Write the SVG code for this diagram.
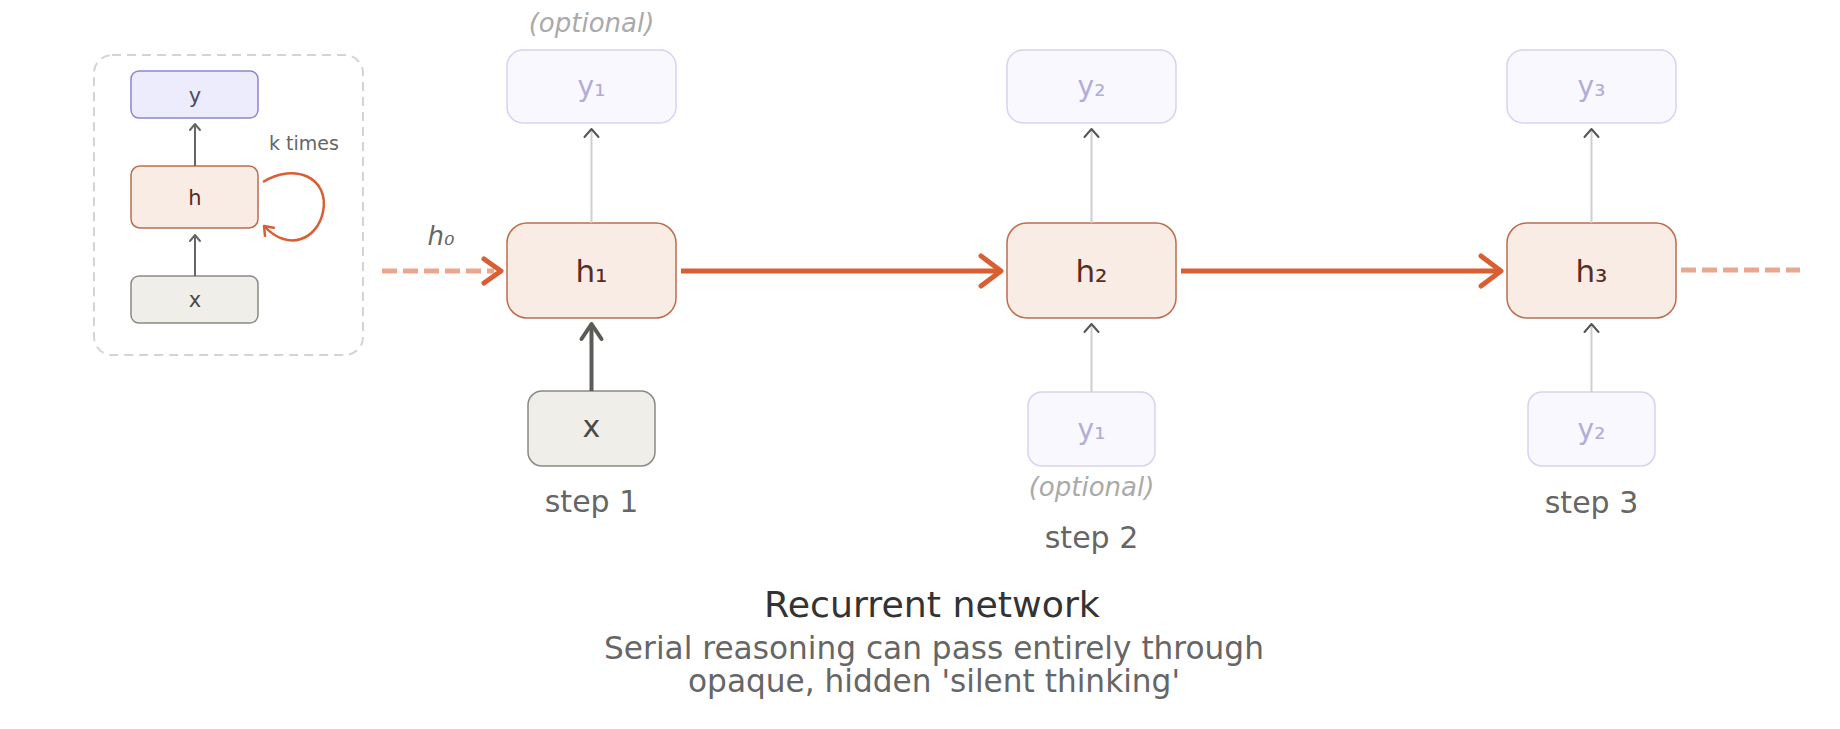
<svg xmlns="http://www.w3.org/2000/svg" width="1840" height="729" viewBox="0 0 1840 729">
  <style>
    text { font-family: "DejaVu Sans", "Liberation Sans", sans-serif; text-anchor: middle; }
    .hbox { fill: #f9ece5; stroke: #bb6d4c; stroke-width: 1.5; }
    .ybox { fill: #f9f8fe; stroke: #d6d2f2; stroke-width: 1.5; }
    .xbox { fill: #f0eee8; stroke: #8a8985; stroke-width: 1.5; }
    .ysmall { fill: #ececfc; stroke: #8c84d2; stroke-width: 1.5; }
    .hlab { font-size: 31px; fill: #5a2d1e; }
    .ylab { font-size: 28px; fill: #b2acd9; }
    .xlab { font-size: 30px; fill: #4a4a48; }
    .slab { font-size: 21px; }
    .step { font-size: 30px; fill: #666; }
    .opt { font-size: 26px; fill: #aaa; font-style: italic; }
    .main { stroke: #d95f33; stroke-width: 5; fill: none; }
    .dash { stroke: #eba78d; stroke-width: 5; stroke-dasharray: 15 6; fill: none; }
    .faint { stroke: #cfcfcf; stroke-width: 2; fill: none; }
    .small { stroke: #666; stroke-width: 2; fill: none; }
  </style>
  <defs>
    <marker id="arrBig" markerUnits="userSpaceOnUse" markerWidth="40" markerHeight="40" viewBox="-30 -20 40 40" refX="0" refY="0" orient="auto">
      <path d="M-20,-15 L0,0 L-20,15" fill="none" stroke="#d95f33" stroke-width="5" stroke-linecap="round" stroke-linejoin="round"/>
    </marker>
    <marker id="arrMid" markerUnits="userSpaceOnUse" markerWidth="40" markerHeight="40" viewBox="-30 -20 40 40" refX="0" refY="0" orient="auto">
      <path d="M-17,-12 L0,0 L-17,12" fill="none" stroke="#d95f33" stroke-width="5" stroke-linecap="round" stroke-linejoin="round"/>
    </marker>
    <marker id="arrLoop" markerUnits="userSpaceOnUse" markerWidth="20" markerHeight="20" viewBox="-15 -10 20 20" refX="0" refY="0" orient="auto">
      <path d="M-8,-6 L0,0 L-8,6" fill="none" stroke="#d95f33" stroke-width="2.5" stroke-linecap="round" stroke-linejoin="round"/>
    </marker>
    <marker id="arrGray" markerUnits="userSpaceOnUse" markerWidth="20" markerHeight="20" viewBox="-15 -10 20 20" refX="0" refY="0" orient="auto">
      <path d="M-8,-7 L0,0 L-8,7" fill="none" stroke="#555" stroke-width="2" stroke-linecap="round" stroke-linejoin="round"/>
    </marker>
    <marker id="arrSmall" markerUnits="userSpaceOnUse" markerWidth="20" markerHeight="20" viewBox="-15 -10 20 20" refX="0" refY="0" orient="auto">
      <path d="M-6,-5 L0,0 L-6,5" fill="none" stroke="#666" stroke-width="2" stroke-linecap="round" stroke-linejoin="round"/>
    </marker>
    <marker id="arrThick" markerUnits="userSpaceOnUse" markerWidth="40" markerHeight="40" viewBox="-30 -20 40 40" refX="0" refY="0" orient="auto">
      <path d="M-15,-10 L0,0 L-15,10" fill="none" stroke="#5b5b57" stroke-width="4" stroke-linecap="round" stroke-linejoin="round"/>
    </marker>
  </defs>
  <rect width="1840" height="729" fill="#ffffff"/>

  <!-- inset summary -->
  <g id="inset">
    <rect x="94" y="55" width="269" height="300" rx="18" fill="none" stroke="#d4d4d4" stroke-width="2" stroke-dasharray="9 6"/>
    <g id="inset-y"><rect class="ysmall" x="131" y="71" width="127" height="47" rx="8"/><text class="slab" x="195" y="103" fill="#4a4a6a">y</text></g>
    <g id="inset-h"><rect class="hbox" x="131" y="166" width="127" height="62" rx="9"/><text class="slab" x="195" y="205" fill="#5a2d1e">h</text></g>
    <g id="inset-x"><rect class="xbox" x="131" y="276" width="127" height="47" rx="8"/><text class="slab" x="195" y="307" fill="#4a4a48">x</text></g>
    <text x="304" y="150" font-size="19" fill="#666">k times</text>
  </g>

  <!-- main nodes -->
  <g id="y1top"><rect class="ybox" x="507" y="50" width="169" height="73" rx="16"/><text class="ylab" x="591.5" y="96">y₁</text></g>
  <g id="y2top"><rect class="ybox" x="1007" y="50" width="169" height="73" rx="16"/><text class="ylab" x="1091.5" y="96">y₂</text></g>
  <g id="y3top"><rect class="ybox" x="1507" y="50" width="169" height="73" rx="16"/><text class="ylab" x="1591.5" y="96">y₃</text></g>

  <g id="h1"><rect class="hbox" x="507" y="223" width="169" height="95" rx="20"/><text class="hlab" x="591.5" y="282">h₁</text></g>
  <g id="h2"><rect class="hbox" x="1007" y="223" width="169" height="95" rx="20"/><text class="hlab" x="1091.5" y="282">h₂</text></g>
  <g id="h3"><rect class="hbox" x="1507" y="223" width="169" height="95" rx="20"/><text class="hlab" x="1591.5" y="282">h₃</text></g>

  <g id="x1"><rect class="xbox" x="528" y="391" width="127" height="75" rx="14"/><text class="xlab" x="591.5" y="437">x</text></g>
  <g id="y1low"><rect class="ybox" x="1028" y="392" width="127" height="74" rx="14"/><text class="ylab" x="1091.5" y="439">y₁</text></g>
  <g id="y2low"><rect class="ybox" x="1528" y="392" width="127" height="74" rx="14"/><text class="ylab" x="1591.5" y="439">y₂</text></g>

  <!-- connectors -->
  <g id="connectors">
    <line class="small" x1="195" y1="166" x2="195" y2="124" marker-end="url(#arrSmall)"/>
    <line class="small" x1="195" y1="276" x2="195" y2="235" marker-end="url(#arrSmall)"/>
    <path d="M263,182 C295,162 330,178 323,212 C317,240 288,252 264,226" fill="none" stroke="#d95f33" stroke-width="2.5" marker-end="url(#arrLoop)"/>

    <line class="dash" x1="382" y1="271" x2="494" y2="271"/>
    <line x1="490" y1="271" x2="501" y2="271" stroke="none" marker-end="url(#arrMid)"/>
    <line class="main" x1="681" y1="271" x2="1001" y2="271" marker-end="url(#arrBig)"/>
    <line class="main" x1="1181" y1="271" x2="1501" y2="271" marker-end="url(#arrBig)"/>
    <line class="dash" x1="1681" y1="270" x2="1800" y2="270" stroke-dasharray="14 7"/>

    <line class="faint" x1="591.5" y1="223" x2="591.5" y2="129" marker-end="url(#arrGray)"/>
    <line class="faint" x1="1091.5" y1="223" x2="1091.5" y2="129" marker-end="url(#arrGray)"/>
    <line class="faint" x1="1591.5" y1="223" x2="1591.5" y2="129" marker-end="url(#arrGray)"/>
    <line class="faint" x1="1091.5" y1="392" x2="1091.5" y2="324" marker-end="url(#arrGray)"/>
    <line class="faint" x1="1591.5" y1="392" x2="1591.5" y2="324" marker-end="url(#arrGray)"/>

    <line x1="591.5" y1="391" x2="591.5" y2="324" stroke="#5b5b57" stroke-width="4" marker-end="url(#arrThick)"/>
  </g>

  <!-- labels -->
  <g id="labels">
    <text x="441" y="245" font-size="26" font-style="italic" fill="#666">h₀</text>
    <text class="opt" x="591.5" y="32">(optional)</text>
    <text class="opt" x="1091.5" y="496">(optional)</text>
    <text class="step" x="591.5" y="512">step 1</text>
    <text class="step" x="1091.5" y="548">step 2</text>
    <text class="step" x="1591.5" y="513">step 3</text>
    <text x="932" y="617" font-size="36.3" fill="#333">Recurrent network</text>
    <text x="934" y="659" font-size="31.2" fill="#666">Serial reasoning can pass entirely through</text>
    <text x="934" y="692" font-size="31.2" fill="#666">opaque, hidden 'silent thinking'</text>
  </g>
</svg>
